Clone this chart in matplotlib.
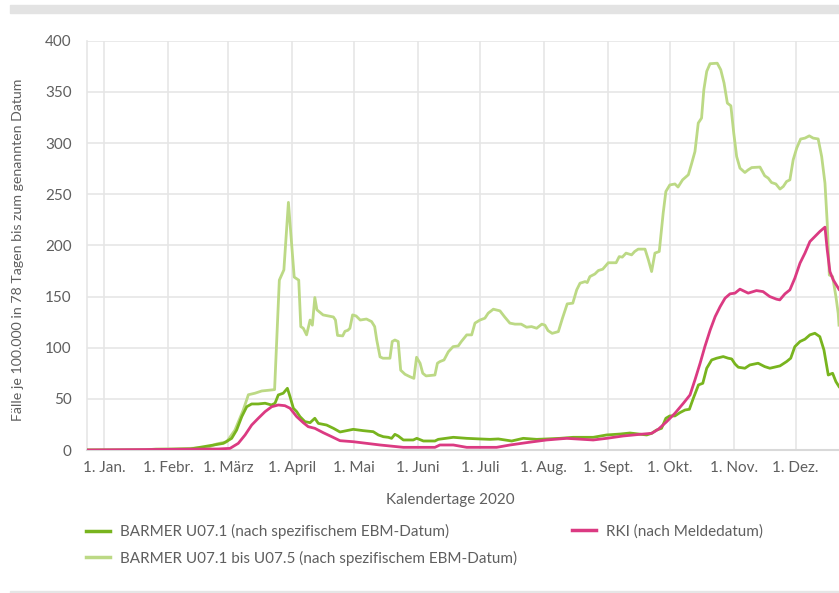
import matplotlib
matplotlib.use("Agg")
import matplotlib.pyplot as plt
from matplotlib.lines import Line2D
from matplotlib.patches import Rectangle

# day of year 2020 (0 = 1. Jan.) and values
light_days = [-8, 20, 25, 41.6, 50, 54.4, 59.3, 63.3, 67.3, 69.8, 73, 76.3, 81, 82.5, 84.8, 87, 89.2,
              92, 94.2, 95.2, 96.4, 98, 99.7, 100.8, 102, 103, 106, 111, 112, 113, 115.5, 116.6, 118,
              119, 120.3, 122, 124, 127, 129.5, 131, 132, 133.6, 135, 138.4, 139.5, 140.8, 142.4,
              143.6, 145.7, 148, 150, 151.3, 153, 154.3, 155.9, 160.2, 161.4, 162.6, 164.6, 166.7,
              169, 171.5, 173, 175.6, 178, 179.6, 182, 184.4, 186, 188.5, 191.7, 194, 196.5, 199,
              202, 204.6, 207, 209.5, 212, 213.5, 215, 217, 220, 222, 224.3, 227, 228.9, 230.5, 233,
              234, 235.3, 237.7, 239.4, 241.5, 244.2, 248, 249.5, 251, 252.8, 255.5, 257, 258.7,
              262, 263.6, 265.2, 266.8, 268.9, 270.8, 272.1, 274, 276.5, 278, 280.2, 283, 284.6,
              286.2, 287.8, 289.4, 290.5, 291.9, 293.5, 297, 298.7, 300.3, 301.9, 303.6, 305, 306.4,
              308, 310.4, 312, 313.7, 317.7, 320, 321.7, 323.3, 325.4, 327.4, 329, 330.6, 332.2,
              333.8, 335.5, 337.4, 339.5, 341.6, 343.5, 345.9, 347.6, 349.2, 350.3, 351.3, 352.9,
              354.5, 355.6, 356]
light_vals = [0, 0, 1, 1.6, 2.5, 5.9, 8, 19.5, 39, 54, 55.5, 57.7, 58.7, 59, 166, 176, 242,
              169, 166, 120.6, 119, 112.5, 127, 122, 149, 137, 132, 130, 127, 112, 111.5, 116, 117,
              119, 132, 131, 127, 128, 125.5, 120.6, 107.5, 91, 89.7, 89.7, 106, 107.5, 106,
              78, 74, 71.7, 70, 90.6, 84.8, 75, 72.4, 73.3, 84.8, 86.4, 88, 96,
              101, 101.7, 106, 112.5, 112.5, 124, 127, 128.8, 133.7, 137.6, 136, 130, 124, 123,
              123, 120, 120.6, 119, 123, 122, 116.7, 114, 115.7, 128.8, 142.8, 143.5, 156.5, 163, 164.6,
              163.6, 169.5, 172, 175.4, 176.7, 183, 183, 189, 188.5, 192.4, 190.7, 194, 196.3,
              196.3, 186, 174.4, 192.4, 194, 231.5, 252.6, 259, 260, 257, 264, 269, 280,
              291.7, 319.5, 324.4, 352, 370, 377.5, 378, 371.6, 358.6, 339, 336.4, 309.7, 286.8,
              275.5, 271.2, 273.8, 276, 276.5, 268, 265.7, 261.4, 260, 255, 257.5, 262.4, 264,
              283.6, 295, 303.9, 304.8, 307, 304.8, 304, 286.8, 260.8, 221.7, 171, 169.5,
              150, 133.7, 122]

dark_days = [-8, 20, 41.6, 57.7, 61.7, 64.1, 66.6, 69, 71.4, 74.6, 77.9, 81, 82.7, 84.3, 86.7, 88.7,
             90, 91.6, 93.2, 94.8, 97.2, 99.7, 102, 103.7, 107.7, 111, 114.2, 120.6, 125.5, 130.3,
             132.8, 135.2, 137.6, 139.2, 140.8, 142.4, 144.9, 149.7, 151.4, 154.6, 160.2, 161.8,
             169.1, 175.6, 182, 186.9, 190.9, 197.4, 203, 209.5, 214.3, 220.8, 227.2, 236.9, 243.4,
             249.9, 254.7, 262.8, 265.2, 267.6, 270, 272.1, 274, 276.5, 278.9, 281.4, 283.5, 285.4,
             287.9, 290, 291.9, 294.3, 296.7, 299.9, 302.3, 304, 305.6, 307.2, 310.4, 312.8, 316.8,
             320, 322.5, 327.4, 330.6, 332.6, 334.6, 337.1, 339.5, 341.9, 344.3, 346.7, 348.7,
             350.8, 352.9, 354.5, 356]
dark_vals = [0, 0, 1, 6.5, 11.4, 19.5, 32.6, 42.3, 45, 45, 45.7, 44, 45.7, 53.8, 55.5, 60.3,
             52, 40.8, 37.5, 32.6, 27.7, 26.7, 31, 26, 24.4, 21.2, 17.6, 20.2, 18.9, 17.9,
             14.7, 13, 12.4, 11.4, 15.3, 13.7, 9.8, 9.8, 11.4, 8.8, 8.8, 10.4,
             12.4, 11.4, 10.8, 10.4, 10.8, 8.8, 11.4, 10.4, 10.8, 11.4, 12.4, 12.4, 14.7,
             15.6, 16.6, 14.7, 16.3, 19.5, 21.2, 31, 33.3, 33.3, 36.5, 39.1, 39.8, 50.5,
             63.6, 65.2, 79.9, 88, 89.7, 91.3, 89.7, 89, 84.1, 80.9, 79.9, 83.1, 84.8,
             81.5, 79.9, 82.2, 86.4, 89.7, 101, 106, 108.3, 112.5, 114.1, 110.8, 97.8,
             73.3, 75, 66.8, 62]

rki_days = [-8, 55.2, 60.9, 64.9, 68.2, 71.4, 74.6, 77.9, 81.1, 84.3, 87.5, 90, 93.2, 96.4, 98.8,
            102, 106.1, 110.2, 114.2, 120.6, 127.1, 133.6, 144.9, 160.2, 162.6, 169.1, 175.6,
            190.1, 196.6, 204.6, 214.3, 224, 236.9, 243.4, 251.4, 259.5, 265.2, 268.4, 272.5,
            276.5, 280.6, 283.8, 286.2, 288.7, 291, 293.6, 296, 298.4, 300.8, 303.2, 305.6, 308,
            312, 316, 319.2, 322.4, 325.7, 327.3, 329.8, 332.2, 334.6, 337.1, 339.5, 341.9,
            344.3, 346.7, 349.2, 350.3, 351.6, 353.2, 356]
rki_vals = [0, 1, 1.6, 6.5, 14.7, 24.4, 31, 37.5, 42.3, 44, 43.3, 40.8, 32.6, 26.7, 22.8,
            21.2, 16.9, 13, 9.1, 8.1, 6.5, 4.9, 2.6, 2.6, 4.9, 4.9, 2.6,
            2.6, 4.9, 7.2, 9.8, 11.4, 9.8, 11.4, 13.7, 15.3, 16.3, 20.2, 27.7,
            35.9, 45.7, 53.8, 68.5, 84.8, 101, 117.4, 130.4, 140.1, 148.4, 152.6, 153.3, 157.2,
            153.3, 155.8, 154.8, 150, 147.4, 146.7, 152.6, 156.5, 167.9, 182.6, 192.4, 203.7,
            208.6, 213.5, 217.8, 195.6, 174.4, 166.3, 157]

month_days = [0, 31, 60, 91, 121, 152, 182, 213, 244, 274, 305, 335]
month_labels = ["1. Jan.", "1. Febr.", "1. März", "1. April", "1. Mai", "1. Juni", "1. Juli",
                "1. Aug.", "1. Sept.", "1. Okt.", "1. Nov.", "1. Dez."]
y_ticks = [0, 50, 100, 150, 200, 250, 300, 350, 400]

series_labels = ["BARMER U07.1 (nach spezifischem EBM-Datum)",
                 "BARMER U07.1 bis U07.5 (nach spezifischem EBM-Datum)",
                 "RKI (nach Meldedatum)"]

DARK = "#78b41e"
LIGHT = "#bcd985"
PINK = "#db3a82"
GRID = "#e6e6e6"
TEXT = "#5f5f5f"

plt.rcParams["font.family"] = ["Lato", "DejaVu Sans"]

W, H = 839, 593
fig = plt.figure(figsize=(W / 100, H / 100), dpi=100)
ax = fig.add_axes([87 / W, 1 - 450 / H, 1 - 87 / W, (450 - 40.7) / H])

ax.plot(light_days, light_vals, color=LIGHT, lw=2.0, solid_joinstyle="round", zorder=3)
ax.plot(dark_days, dark_vals, color=DARK, lw=2.0, solid_joinstyle="round", zorder=4)
ax.plot(rki_days, rki_vals, color=PINK, lw=2.0, solid_joinstyle="round", zorder=5)

ax.set_xlim(-8.4, 356)
ax.set_ylim(0, 400)
ax.set_xticks(month_days)
ax.set_xticklabels(month_labels)
ax.set_yticks(y_ticks)
ax.tick_params(length=0, labelsize=11, labelcolor=TEXT)
ax.tick_params(axis="x", pad=8)
ax.tick_params(axis="y", pad=11)
ax.grid(True, color=GRID, lw=1.2, zorder=0)
ax.set_axisbelow(True)
for side in ["top", "right"]:
    ax.spines[side].set_visible(False)
ax.spines["left"].set_color(GRID)
ax.spines["left"].set_linewidth(1.2)
ax.spines["bottom"].set_color("#d9d9d9")
ax.spines["bottom"].set_linewidth(1.5)

ax.set_xlabel("Kalendertage 2020", fontsize=11, color=TEXT)
ax.xaxis.set_label_coords((450 - 87) / (W - 87), -50 / 409.3)
ax.xaxis.label.set_va("center")
ax.set_ylabel("Fälle je 100.000 in 78 Tagen bis zum genannten Datum", fontsize=10.2, color=TEXT)
ax.yaxis.set_label_coords(-69 / (W - 87), 0.49)
ax.yaxis.label.set_va("center")

h_dark = Line2D([], [], color=DARK, lw=2.5)
h_light = Line2D([], [], color=LIGHT, lw=2.5)
h_pink = Line2D([], [], color=PINK, lw=2.5)
leg_kw = dict(frameon=False, fontsize=11, handlelength=1.6, handletextpad=0.6,
              labelspacing=0.75, borderaxespad=0, borderpad=0, labelcolor=TEXT)
fig.legend([h_dark, h_light], series_labels[:2], loc="upper left",
           bbox_to_anchor=(86 / W, 1 - 524 / H), **leg_kw)
fig.legend([h_pink], series_labels[2:], loc="upper left",
           bbox_to_anchor=(572 / W, 1 - 524 / H), **leg_kw)

# light grey frame bars of the original page
fig.patches.append(Rectangle((10 / W, 1 - 13 / H), 1, 8 / H, transform=fig.transFigure,
                             color="#e3e3e3", zorder=0))
fig.patches.append(Rectangle((10 / W, 0), 1, 2.5 / H, transform=fig.transFigure,
                             color="#e6e6e6", zorder=0))

fig.savefig("out.png", dpi=100)
